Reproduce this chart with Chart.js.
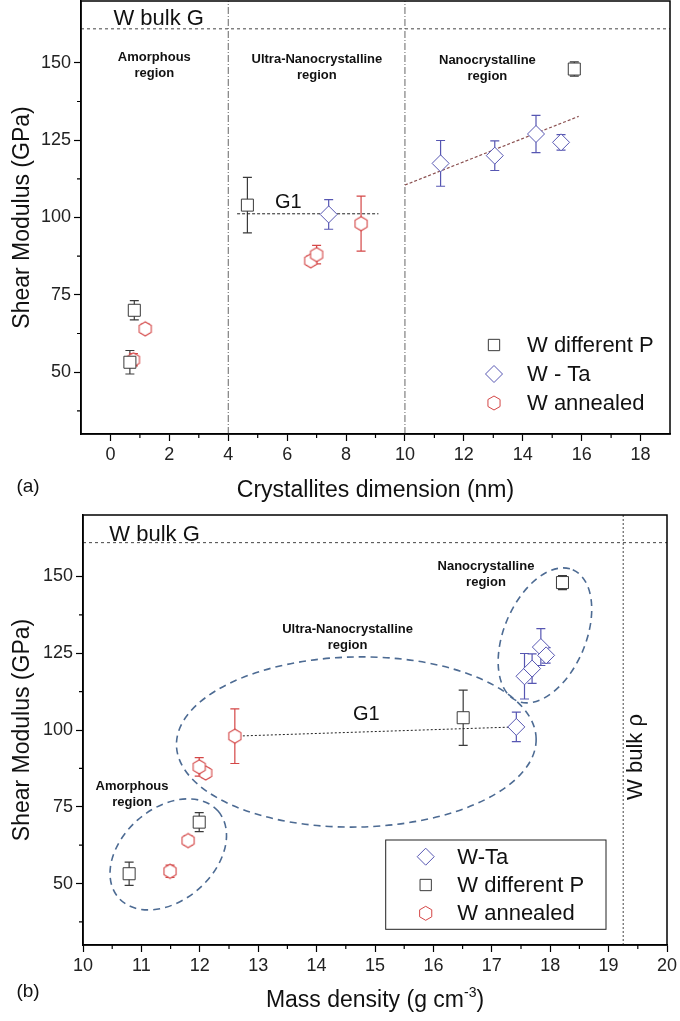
<!DOCTYPE html>
<html>
<head>
<meta charset="utf-8">
<script src="https://cdn.jsdelivr.net/npm/chart.js@4.4.1/dist/chart.umd.min.js"></script>
<style>
  html, body { margin: 0; padding: 0; background: #fff; }
  #wrap { position: relative; width: 680px; height: 1021px; }
  canvas { position: absolute; left: 0; }
  #chartA { top: 0; }
  #chartB { top: 505px; }
</style>
</head>
<body>
<div id="wrap">
  <canvas id="chartA" width="680" height="505"></canvas>
  <canvas id="chartB" width="680" height="516"></canvas>
</div>
<script>
// ---- sample values (shear modulus in GPa) ----
const gDiffP = [53.2, 70, 104, 148];
const errDiffP = [3.8, 3.1, 9, 2.3];
const gWTa = [101, 117.5, 120, 127, 124.3];
const errWTa = [4.8, 7.4, 4.8, 6, 2.5];
const gAnn = [54, 64, 86, 88, 98];
const errAnn = [2, 1.5, 1.5, 3, 8.9];

// panel (a): crystallite size (nm)
const sizeDiffP = [0.66, 0.81, 4.65, 15.75];
const sizeWTa = [7.41, 11.21, 13.05, 14.45, 15.3];
const sizeAnn = [0.78, 1.18, 6.8, 7.0, 8.51];

// panel (b): mass density (g cm-3)
const rhoDiffP = [10.79, 11.99, 16.51, 18.21];
const rhoWTa = [17.42, 17.56, 17.69, 17.84, 17.93];
const rhoAnn = [11.49, 11.8, 12.1, 11.99, 12.6];

// reference lines
const bulkG = 161;
const bulkRho = 19.25;
const regionLimits = [4, 10];
const g1SizeX = [4.3, 9.1];
const g1SizeY = [101.2, 101.2];
const trendSizeX = [10, 15.9];
const trendSizeY = [110.5, 132.7];
const g1RhoX = [12.6, 17.42];
const g1RhoY = [98, 101];

// axes
const sizeRange = [-1, 19];
const rhoRange = [10, 20];
const gRange = [30, 170];
const sizeTicks = [0, 2, 4, 6, 8, 10, 12, 14, 16, 18];
const sizeMinor = [1, 3, 5, 7, 9, 11, 13, 15, 17];
const rhoTicks = [10, 11, 12, 13, 14, 15, 16, 17, 18, 19, 20];
const rhoMinor = [10.5, 11.5, 12.5, 13.5, 14.5, 15.5, 16.5, 17.5, 18.5, 19.5];
const gTicks = [50, 75, 100, 125, 150];
const gMinor = [37.5, 62.5, 87.5, 112.5, 137.5];

const FONT = "'Liberation Sans', Arial, sans-serif";
const BLACK = "#3a3a3a";
const BLUE = "#5656b2";
const RED = "#d44646";
const ELLIPSE = "#4d6b93";

function pts(xs, ys) {
    return xs.map((x, i) => ({ x: x, y: ys[i] }));
}

function hexImage(color) {
    const c = document.createElement("canvas");
    c.width = 18;
    c.height = 18;
    const g = c.getContext("2d");
    g.beginPath();
    for (let k = 0; k < 6; k++) {
        const a = Math.PI / 2 + (k * Math.PI) / 3;
        const px = 9 + 7 * Math.cos(a);
        const py = 9 - 7 * Math.sin(a);
        if (k === 0) g.moveTo(px, py);
        else g.lineTo(px, py);
    }
    g.closePath();
    g.fillStyle = "#fff";
    g.fill();
    g.strokeStyle = color;
    g.lineWidth = 1.1;
    g.stroke();
    return c;
}

function markers(label, xs, ys, errs, style, color, radius) {
    return {
        label: label,
        data: pts(xs, ys),
        yErr: errs,
        marker: style,
        pointStyle: style === "hex" ? hexImage(color) : style,
        pointRadius: radius,
        pointBorderWidth: 1,
        pointBorderColor: color,
        pointBackgroundColor: "#fff",
        borderColor: color,
        showLine: false,
    };
}

function refLine(xs, ys, color, dash, width) {
    return {
        data: pts(xs, ys),
        showLine: true,
        pointRadius: 0,
        borderColor: color,
        borderDash: dash,
        borderWidth: width,
        fill: false,
    };
}

function drawMarker(ctx, style, x, y, color, r) {
    ctx.save();
    ctx.strokeStyle = color;
    ctx.fillStyle = "#fff";
    ctx.lineWidth = 1;
    ctx.beginPath();
    if (style === "rect") {
        const s = r * Math.SQRT1_2;
        ctx.rect(x - s, y - s, 2 * s, 2 * s);
    } else if (style === "rectRot") {
        ctx.moveTo(x - r, y);
        ctx.lineTo(x, y - r);
        ctx.lineTo(x + r, y);
        ctx.lineTo(x, y + r);
        ctx.closePath();
    } else {
        for (let k = 0; k < 6; k++) {
            const a = Math.PI / 2 + (k * Math.PI) / 3;
            const px = x + r * Math.cos(a);
            const py = y - r * Math.sin(a);
            if (k === 0) ctx.moveTo(px, py);
            else ctx.lineTo(px, py);
        }
        ctx.closePath();
    }
    ctx.fill();
    ctx.stroke();
    ctx.restore();
}

function decor(cfg) {
    return {
        id: "decor",
        beforeDatasetsDraw(chart) {
            const ctx = chart.ctx;
            const xs = chart.scales.x;
            const ys = chart.scales.y;
            ctx.save();

            // region ellipses
            (cfg.ellipses || []).forEach((e) => {
                const sx = Math.abs(xs.getPixelForValue(1) - xs.getPixelForValue(0));
                const sy = Math.abs(ys.getPixelForValue(0) - ys.getPixelForValue(1));
                ctx.beginPath();
                ctx.ellipse(
                    xs.getPixelForValue(e.cx),
                    ys.getPixelForValue(e.cy),
                    e.a * sx,
                    e.b * sy,
                    (-e.rot * Math.PI) / 180,
                    0,
                    2 * Math.PI,
                );
                ctx.strokeStyle = ELLIPSE;
                ctx.lineWidth = 1.6;
                ctx.setLineDash([7, 5]);
                ctx.stroke();
            });
            ctx.setLineDash([]);

            // error bars
            chart.data.datasets.forEach((ds, i) => {
                if (!ds.yErr) return;
                const meta = chart.getDatasetMeta(i);
                ctx.strokeStyle = ds.pointBorderColor;
                ctx.lineWidth = 1.2;
                meta.data.forEach((pt, j) => {
                    const v = ds.data[j].y;
                    const top = ys.getPixelForValue(v + ds.yErr[j]);
                    const bot = ys.getPixelForValue(v - ds.yErr[j]);
                    ctx.beginPath();
                    ctx.moveTo(pt.x, top);
                    ctx.lineTo(pt.x, bot);
                    ctx.moveTo(pt.x - 4.5, top);
                    ctx.lineTo(pt.x + 4.5, top);
                    ctx.moveTo(pt.x - 4.5, bot);
                    ctx.lineTo(pt.x + 4.5, bot);
                    ctx.stroke();
                });
            });
            ctx.restore();
        },
        afterDraw(chart) {
            const ctx = chart.ctx;
            const a = chart.chartArea;
            const xs = chart.scales.x;
            const ys = chart.scales.y;
            ctx.save();

            // frame
            ctx.strokeStyle = "#000";
            ctx.lineWidth = 1.5;
            ctx.strokeRect(a.left, a.top, a.right - a.left, a.bottom - a.top);

            // minor ticks
            ctx.lineWidth = 1.2;
            ctx.beginPath();
            cfg.xMinor.forEach((v) => {
                const p = xs.getPixelForValue(v);
                ctx.moveTo(p, a.bottom);
                ctx.lineTo(p, a.bottom + 4);
            });
            gMinor.forEach((v) => {
                const p = ys.getPixelForValue(v);
                ctx.moveTo(a.left - 4, p);
                ctx.lineTo(a.left, p);
            });
            ctx.stroke();

            // notes inside the plot
            ctx.fillStyle = "#111";
            ctx.textBaseline = "middle";
            cfg.notes.forEach((n) => {
                const px = xs.getPixelForValue(n.x);
                const py = ys.getPixelForValue(n.y);
                ctx.font = n.font;
                ctx.textAlign = n.align || "center";
                ctx.save();
                ctx.translate(px, py);
                if (n.rotate) ctx.rotate(-Math.PI / 2);
                const lh = n.lineHeight || 16;
                n.lines.forEach((t, k) => {
                    ctx.fillText(t, 0, (k - (n.lines.length - 1) / 2) * lh);
                });
                ctx.restore();
            });

            // axis titles
            ctx.fillStyle = "#111";
            ctx.textAlign = "left";
            const parts = cfg.xTitle;
            let total = 0;
            parts.forEach((p) => {
                ctx.font = p.sup ? "14px " + FONT : "23px " + FONT;
                total += ctx.measureText(p.t).width;
            });
            let cx = (a.left + a.right) / 2 - total / 2;
            const ty = a.bottom + cfg.xTitleGap;
            parts.forEach((p) => {
                ctx.font = p.sup ? "14px " + FONT : "23px " + FONT;
                ctx.fillText(p.t, cx, p.sup ? ty - 8 : ty);
                cx += ctx.measureText(p.t).width;
            });

            ctx.save();
            ctx.translate(23, (a.top + a.bottom) / 2);
            ctx.rotate(-Math.PI / 2);
            ctx.textAlign = "center";
            ctx.font = "23px " + FONT;
            ctx.fillText("Shear Modulus (GPa)", 0, 0);
            ctx.restore();

            ctx.textAlign = "center";
            ctx.font = "19px " + FONT;
            ctx.fillText(cfg.panel, 28, a.bottom + cfg.panelGap);

            // legend
            const lg = cfg.legend;
            if (lg.box) {
                ctx.strokeStyle = "#222";
                ctx.lineWidth = 1;
                ctx.strokeRect(a.left + lg.box.l, a.bottom - lg.box.t, a.right - lg.box.r - (a.left + lg.box.l), lg.box.t - lg.box.b);
            }
            ctx.font = "22px " + FONT;
            ctx.textAlign = "left";
            ctx.fillStyle = "#111";
            let row = 0;
            chart.data.datasets.forEach((ds) => {
                if (!ds.label) return;
                const y = a.bottom - lg.rows[row];
                const mx = lg.fromLeft ? a.left + lg.mx : a.right - lg.mx;
                const tx = lg.fromLeft ? a.left + lg.tx : a.right - lg.tx;
                const r = ds.marker === "rect" ? 8 : ds.marker === "rectRot" ? 8.5 : 7;
                drawMarker(ctx, ds.marker, mx, y, ds.pointBorderColor, r);
                ctx.fillText(ds.label, tx, y + 1);
                row++;
            });
            ctx.restore();
        },
    };
}

function axisOptions(range, ticks, width, height) {
    const common = {
        type: "linear",
        grid: { drawOnChartArea: false, drawTicks: true, tickLength: 7, color: "#000", tickWidth: 1.2 },
        border: { display: true, color: "#000", width: 1.5 },
        ticks: { font: { family: FONT, size: 18 }, color: "#222", padding: 3, autoSkip: false, maxRotation: 0 },
    };
    return Object.assign({}, common, {
        min: range[0],
        max: range[1],
        afterBuildTicks: (s) => {
            s.ticks = ticks.map((v) => ({ value: v }));
        },
        afterFit: (s) => {
            if (width) s.width = width;
            if (height) s.height = height;
            // labels never sit on the plot edges here, so no extra room is needed
            s.paddingTop = 0;
            s.paddingBottom = 0;
            s.paddingLeft = 0;
            s.paddingRight = 0;
        },
    });
}

function makeChart(id, datasets, xRange, xTicks, padding, yWidth, xHeight, cfg) {
    return new Chart(document.getElementById(id), {
        type: "scatter",
        data: { datasets: datasets },
        options: {
            responsive: false,
            animation: false,
            devicePixelRatio: 1,
            events: [],
            layout: { padding: padding, autoPadding: false },
            plugins: { legend: { display: false }, tooltip: { enabled: false } },
            scales: {
                x: axisOptions(xRange, xTicks, null, xHeight),
                y: axisOptions(gRange, gTicks, yWidth, null),
            },
        },
        plugins: [decor(cfg)],
    });
}

const bold = "bold 13px " + FONT;
const big = "22px " + FONT;

// ---- panel (a) ----
makeChart(
    "chartA",
    [
        markers("W different P", sizeDiffP, gDiffP, errDiffP, "rect", BLACK, 8.5),
        markers("W - Ta", sizeWTa, gWTa, errWTa, "rectRot", BLUE, 8.5),
        markers("W annealed", sizeAnn, gAnn, errAnn, "hex", RED, 7),
        refLine(g1SizeX, g1SizeY, "#222", [3, 2], 1),
        refLine(trendSizeX, trendSizeY, "#8a4f4f", [3, 2], 1.2),
        refLine(sizeRange, [bulkG, bulkG], "#444", [3, 3], 1),
        refLine([regionLimits[0], regionLimits[0]], gRange, "#666", [7, 2, 1, 2], 1),
        refLine([regionLimits[1], regionLimits[1]], gRange, "#666", [7, 2, 1, 2], 1),
    ],
    sizeRange,
    sizeTicks,
    { left: 0, top: 1, right: 10, bottom: 0 },
    81,
    71,
    {
        xMinor: sizeMinor,
        notes: [
            { lines: ["W bulk G"], x: 0.1, y: 164.1, font: big, align: "left" },
            { lines: ["Amorphous", "region"], x: 1.49, y: 149.3, font: bold },
            { lines: ["Ultra-Nanocrystalline", "region"], x: 7.01, y: 148.6, font: bold },
            { lines: ["Nanocrystalline", "region"], x: 12.8, y: 148.2, font: bold },
            { lines: ["G1"], x: 6.04, y: 104.9, font: "20px " + FONT },
        ],
        xTitle: [{ t: "Crystallites dimension (nm)" }],
        xTitleGap: 57,
        panel: "(a)",
        panelGap: 53,
        legend: { fromLeft: false, mx: 176, tx: 143, rows: [89, 60, 31] },
    },
);

// ---- panel (b) ----
makeChart(
    "chartB",
    [
        markers("W-Ta", rhoWTa, gWTa, errWTa, "rectRot", BLUE, 8.5),
        markers("W different P", rhoDiffP, gDiffP, errDiffP, "rect", BLACK, 8.5),
        markers("W annealed", rhoAnn, gAnn, errAnn, "hex", RED, 7),
        refLine(g1RhoX, g1RhoY, "#222", [2, 2], 1),
        refLine(rhoRange, [bulkG, bulkG], "#444", [3, 3], 1),
        refLine([bulkRho, bulkRho], gRange, "#444", [2, 2], 1),
    ],
    rhoRange,
    rhoTicks,
    { left: 0, top: 10, right: 13, bottom: 0 },
    83,
    76,
    {
        xMinor: rhoMinor,
        ellipses: [
            { cx: 11.46, cy: 59.5, a: 1.13, b: 15.0, rot: 41 },
            { cx: 14.68, cy: 96.1, a: 3.08, b: 27.7, rot: 1 },
            { cx: 17.91, cy: 130.8, a: 1.22, b: 13.3, rot: 67 },
        ],
        notes: [
            { lines: ["W bulk G"], x: 10.45, y: 163.5, font: big, align: "left" },
            { lines: ["Nanocrystalline", "region"], x: 16.9, y: 150.8, font: bold },
            { lines: ["Ultra-Nanocrystalline", "region"], x: 14.53, y: 130.05, font: bold },
            { lines: ["Amorphous", "region"], x: 10.84, y: 78.9, font: bold },
            { lines: ["G1"], x: 14.85, y: 104.9, font: "20px " + FONT },
            { lines: ["W bulk \u03C1"], x: 19.47, y: 91.2, font: big, rotate: true },
        ],
        xTitle: [{ t: "Mass density (g cm" }, { t: "-3", sup: true }, { t: ")" }],
        xTitleGap: 56,
        panel: "(b)",
        panelGap: 47,
        legend: {
            fromLeft: true,
            mx: 342.7,
            tx: 374.3,
            rows: [88.3, 60, 31.7],
            box: { l: 302.7, r: 61, t: 105, b: 15.7 },
        },
    },
);
</script>
</body>
</html>
